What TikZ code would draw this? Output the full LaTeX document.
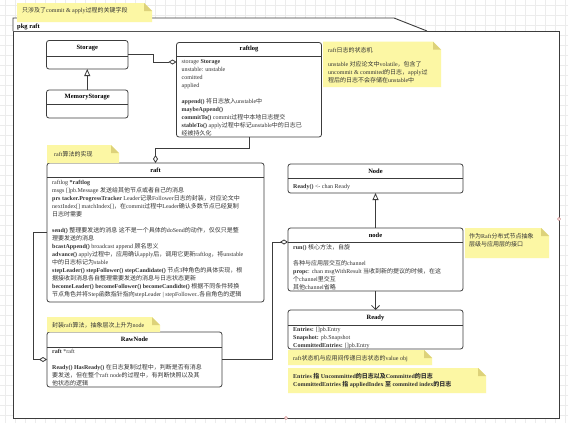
\documentclass[tikz,border=0pt]{standalone}
\usepackage{fontspec}
\setmainfont{Liberation Serif}
\newfontfamily\cjkfont{Noto Sans CJK SC}
\usetikzlibrary{arrows.meta}
% --- automatic switch to the CJK font for Chinese characters
\XeTeXinterchartokenstate=1
\chardef\cjkcls=7
\newcount\cjkcnt
\def\setcjkrange#1#2{\cjkcnt=#1\relax
  \loop\XeTeXcharclass\cjkcnt=\cjkcls\relax
  \ifnum\cjkcnt<#2\relax\advance\cjkcnt by 1\repeat}
\setcjkrange{"4E00}{"9FFF}
\setcjkrange{"3000}{"303F}
\setcjkrange{"FF00}{"FFEF}
\XeTeXinterchartoks 0 \cjkcls = {\begingroup\cjkfont}
\XeTeXinterchartoks 4095 \cjkcls = {\begingroup\cjkfont}
\XeTeXinterchartoks \cjkcls 0 = {\endgroup}
\XeTeXinterchartoks \cjkcls 4095 = {\endgroup}

\definecolor{linec}{HTML}{3C3C3C}
\definecolor{textc}{HTML}{333333}
\definecolor{gridc}{HTML}{ECECEC}
\definecolor{notefill}{HTML}{FCF7A4}
\definecolor{notefold}{HTML}{DDD27A}
\definecolor{handlec}{HTML}{D08080}

\tikzset{
  clsbox/.style={draw=linec, fill=white, rounded corners=2.5pt, line width=0.8pt, inner sep=0pt, outer sep=0pt},
  clsline/.style={draw=linec, line width=0.8pt},
  clstitle/.style={font=\fontsize{6.5}{8}\selectfont\bfseries, text=black, inner sep=0pt},
  bodytext/.style={font=\fontsize{6}{8}\selectfont, text=textc, align=left, inner sep=0pt, anchor=north west},
  pkgframe/.style={draw=linec, fill=white, line width=0.9pt},
  gridline/.style={draw=gridc, line width=0.4pt},
  agg/.style={draw=linec, line width=0.8pt, -{Diamond[length=8pt, width=5pt, fill=white]}},
  inh/.style={draw=linec, line width=0.8pt, -{Triangle[length=7pt, width=6pt, fill=white]}},
  dep/.style={draw=linec, line width=0.8pt, -{Straight Barb[length=4pt, width=8pt]}},
}

% #1 name, #2 x1, #3 y1, #4 x2, #5 y2, #6 divider y, #7 title
\newcommand\umlbox[7]{%
  \node[clsbox, minimum width={#4-#2}, minimum height={#5-#3}] (#1) at ({(#2+#4)/2},{(#3+#5)/2}) {};
  \draw[clsline] (#2,#6) -- (#4,#6);
  \node[clstitle] (#1-title) at ({(#2+#4)/2},{(#3+#6)/2}) {#7};
}
% #1 x1, #2 y1, #3 x2, #4 y2
\newcommand\yellownote[4]{%
  \fill[notefill] (#1,#2) -- ({#3-8},#2) -- (#3,{#2+8}) -- (#3,#4) -- (#1,#4) -- cycle;
  \fill[notefold] ({#3-8},#2) -- ({#3-8},{#2+8}) -- (#3,{#2+8}) -- cycle;
}

\begin{document}
\begin{tikzpicture}[x=1pt, y=-1pt]
\useasboundingbox (0,0) rectangle (568,423);
\fill[white] (0,0) rectangle (568,423);
\foreach \gx in {5,15,...,565} \draw[gridline] (\gx,0) -- (\gx,423);
\foreach \gy in {5,15,...,420} \draw[gridline] (0,\gy) -- (568,\gy);

% package frame
\filldraw[pkgframe] (13,31) rectangle (559,418);
\filldraw[pkgframe] (13,31) -- (13,18) -- (394,18) -- (427,31);
\node[font=\fontsize{6.5}{8}\selectfont\bfseries, anchor=base west, inner sep=0pt] (pkg) at (17,28) {pkg raft};

% top note
\yellownote{17}{3}{152}{22}
\node[bodytext] (topnote) at (22,6.6) {\strut 只涉及了commit \& apply过程的关键字段};

% classes
\umlbox{storage}{46.5}{40.5}{128}{69}{56}{Storage}
\umlbox{memstorage}{46.5}{90}{128}{118}{104}{MemoryStorage}
\umlbox{raftlog}{176.5}{42.5}{321.5}{137}{56}{raftlog}
\umlbox{raft}{47}{163}{264}{302}{177}{raft}
\umlbox{rawnode}{47}{332}{222}{387}{347}{RawNode}
\umlbox{nodeif}{288}{164}{463}{193}{178}{Node}
\umlbox{nodecls}{288}{228}{463}{291}{242}{node}
\umlbox{ready}{288}{310}{463}{349}{325}{Ready}

\node[bodytext] (raftlog-body) at (181.5,58.1) {\strut storage \textbf{Storage}\\
unstable: unstable\\
comitted\\
applied\\[8pt]
\textbf{append()} 将日志放入unstable中\\
\textbf{maybeAppend()}\\
\textbf{commitTo()} commit过程中本地日志提交\\
\textbf{stableTo()} apply过程中标记unstable中的日志已\\
经被持久化};

\node[bodytext] (raft-body) at (52,178.9) {\strut raftlog \textbf{*raftlog}\\
msgs []pb.Message 发送给其他节点或者自己的消息\\
\textbf{prs tacker.ProgressTracker} Leader记录Follower日志的封装，对应论文中\\
nextIndex[] matchIndex[]，在commit过程中Leader确认多数节点已经复制\\
日志时需要\\[8pt]
\textbf{send()} 整理要发送的消息 这不是一个具体的doSend的动作，仅仅只是整\\
理要发送的消息\\
\textbf{bcastAppend()} broadcast append 顾名思义\\
\textbf{advance()} apply过程中，应用确认apply后，调用它更新raftlog，将unstable\\
中的日志标记为stable\\
\textbf{stepLeader() stepFollower() stepCandidate()} 节点3种角色的具体实现，根\\
据接收到消息各自整理需要发送的消息与日志状态更新\\
\textbf{becomeLeader() becomeFollower() becomeCandidte()} 根据不同条件转换\\
节点角色并将Step函数指针指向stepLeader | stepFollower..各自角色的逻辑};

\node[bodytext] (rawnode-body) at (52,348.1) {\strut \textbf{raft} *raft\\[8pt]
\textbf{Ready() HasReady()} 在日志复制过程中，判断是否有消息\\
要发送，但在整个raft node的过程中，有判断快照以及其\\
他状态的逻辑};

\node[bodytext] (nodeif-body) at (293,182.4) {\strut \textbf{Ready()} <- chan Ready};

\node[bodytext] (nodecls-body) at (293,243.4) {\strut \textbf{run()} 核心方法，自旋\\[8pt]
各种与应用层交互的channel\\
\textbf{propc}: chan msgWithResult 当收到新的提议的时候，在这\\
个channel里交互\\
其他channel省略};

\node[bodytext] (ready-body) at (293,325.4) {\strut \textbf{Entries:} []pb.Entry\\
\textbf{Snapshot:} pb.Snapshot\\
\textbf{CommittedEntries:} []pb.Entry};

% notes
\yellownote{323}{41.7}{441}{87}
\node[bodytext] (raftlog-note) at (328,47.1) {\strut raft日志的状态机\\[6pt]
unstable 对应论文中volatile，包含了\\
uncommit \& commited的日志，apply过\\
程后的日志不会存储在unstable中};

\yellownote{47}{145}{119}{163}
\node[bodytext] (raft-note) at (54,150.9) {\strut raft算法的实现};

\yellownote{47}{317}{160}{332}
\node[bodytext] (rawnode-note) at (52,321.9) {\strut 封装raft算法，抽象层次上升为node};

\yellownote{465}{228}{549}{258}
\node[bodytext] (nodecls-note) at (469,232.4) {\strut 作为Raft分布式节点抽象\\
层级与应用层的接口};

\yellownote{288}{350}{432}{365}
\node[bodytext] (ready-note) at (293,354.4) {\strut raft状态机与应用间传递日志状态的value obj};

\yellownote{288}{368}{486}{393}
\node[bodytext, font=\fontsize{6}{8}\selectfont\bfseries] (entries-note) at (293,372.4) {\strut Entries 指 Uncommitted的日志以及Committed的日志\\
CommittedEntries 指 appliedIndex 至 commited index的日志};

% connectors
\draw[agg] (storage.east) -| (153,62) -- ([yshift=27.75pt]raftlog.west);
\draw[inh] (memstorage.north) -- (storage.south);
\draw[agg] (raftlog.south) |- (155.5,148) -| (raft.north);
\draw[agg] (raft.west) -- (33,232.5) |- (rawnode.west);
\draw[agg] (rawnode.east) -| (272,242) -- ([yshift=17.5pt]nodecls.west);
\draw[inh] (nodecls.north) -- (nodeif.south);
\draw[dep] (nodecls.south) -- (ready.north);

% selection handles
\draw[draw=handlec, fill=white, line width=0.5pt] (286,418) circle (1.6);
\draw[draw=handlec, fill=white, line width=0.5pt] (559,219) circle (1.6);
\end{tikzpicture}
\end{document}
